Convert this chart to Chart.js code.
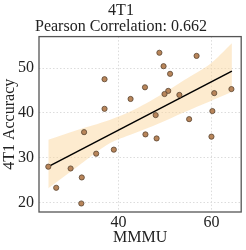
<!DOCTYPE html>
<html>
<head>
<meta charset="utf-8">
<script src="https://cdn.jsdelivr.net/npm/chart.js@4.4.1/dist/chart.umd.min.js"></script>
<style>
  html, body { margin: 0; padding: 0; background: #fff; }
  #wrap { width: 246px; height: 250px; }
</style>
</head>
<body>
<div id="wrap"><canvas id="chart" width="246" height="250"></canvas></div>
<script>
// values
const mmmu = [48.8, 56.8, 49.7, 51.1, 37.0, 45.7, 42.6, 50.7, 49.9, 53.1, 60.6, 64.3,
  37.0, 60.2, 48.0, 55.2, 32.6, 45.8, 48.2, 60.0, 35.2, 39.0, 24.9, 29.7, 32.1, 26.6, 32.0];
const accuracy = [53.4, 52.7, 50.4, 48.7, 47.5, 45.7, 43.1, 44.9, 44.2, 44.0, 44.4, 45.3,
  40.9, 40.4, 39.5, 38.6, 35.7, 35.2, 34.3, 34.7, 30.9, 31.8, 28.0, 27.6, 25.6, 23.3, 19.8];

// fitted line ends and the shaded band edges
const fitX = [24.9, 64.4];
const fitY = [28.0, 49.3];
const bandX = [24.9, 31, 38.1, 43, 48.8, 54, 59.5, 64.4];
const bandUpper = [34.0, 36.1, 38.4, 40.5, 43.8, 47.2, 50.7, 55.5];
const bandLower = [23.2, 27.9, 33.2, 35.3, 37.7, 40.1, 42.5, 44.7];

const xTicks = [40, 60];
const yTicks = [20, 30, 40, 50];

const titleLines = ['4T1', 'Pearson Correlation: 0.662'];
const xTitle = 'MMMU';
const yTitle = '4T1 Accuracy';

const font = { family: '"Liberation Serif", "DejaVu Serif", serif', size: 16 };

function pairs(xs, ys) {
  return xs.map((x, i) => ({ x: x, y: ys[i] }));
}

// draw the frame round the plot area
const frame = {
  id: 'frame',
  afterDraw(chart) {
    const a = chart.chartArea;
    const ctx = chart.ctx;
    ctx.save();
    ctx.strokeStyle = '#555';
    ctx.lineWidth = 1.3;
    ctx.strokeRect(a.left, a.top, a.right - a.left, a.bottom - a.top);
    ctx.restore();
  }
};

const ctx = document.getElementById('chart').getContext('2d');
new Chart(ctx, {
  type: 'scatter',
  data: {
    datasets: [
      {
        data: pairs(mmmu, accuracy),
        backgroundColor: '#b8855a',
        borderColor: '#5b4634',
        borderWidth: 0.8,
        pointRadius: 2.6,
        order: 0
      },
      {
        type: 'line',
        data: pairs(fitX, fitY),
        borderColor: '#000',
        borderWidth: 1.5,
        pointRadius: 0,
        fill: false,
        order: 1
      },
      {
        type: 'line',
        data: pairs(bandX, bandUpper),
        borderWidth: 0,
        borderColor: 'rgba(0,0,0,0)',
        backgroundColor: 'rgba(252, 215, 160, 0.5)',
        pointRadius: 0,
        tension: 0.3,
        fill: '+1',
        order: 2
      },
      {
        type: 'line',
        data: pairs(bandX, bandLower),
        borderWidth: 0,
        borderColor: 'rgba(0,0,0,0)',
        pointRadius: 0,
        tension: 0.3,
        fill: false,
        order: 3
      }
    ]
  },
  options: {
    responsive: false,
    animation: false,
    events: [],
    layout: { padding: { top: 0, right: 4, bottom: 0, left: 0 } },
    plugins: {
      legend: { display: false },
      tooltip: { enabled: false },
      title: {
        display: true,
        text: titleLines,
        color: '#222',
        font: Object.assign({ lineHeight: 1.05, weight: 'normal' }, font),
        padding: { top: 2, bottom: 1 }
      }
    },
    scales: {
      x: {
        type: 'linear',
        min: 22.9,
        max: 66.4,
        afterBuildTicks: s => { s.ticks = xTicks.map(v => ({ value: v })); },
        afterFit: s => { s.height = 38; },
        ticks: { color: '#222', font: font, padding: 1 },
        grid: { color: '#dcdcdc', drawTicks: false },
        border: { display: false, dash: [1.5, 2] },
        title: { display: true, text: xTitle, color: '#222', font: font, padding: { top: 0, bottom: 3 } }
      },
      y: {
        type: 'linear',
        min: 17.9,
        max: 57.0,
        afterBuildTicks: s => { s.ticks = yTicks.map(v => ({ value: v })); },
        afterFit: s => { s.width = 39; },
        ticks: { color: '#222', font: font, padding: 5 },
        grid: { color: '#dcdcdc', drawTicks: false },
        border: { display: false, dash: [1.5, 2] },
        title: { display: true, text: yTitle, color: '#222', font: font, padding: 0 }
      }
    }
  },
  plugins: [frame]
});
</script>
</body>
</html>
